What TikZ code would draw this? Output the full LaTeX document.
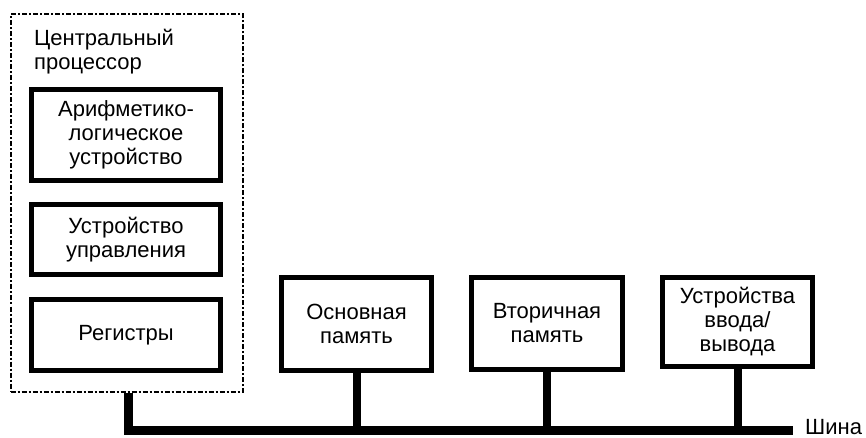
\documentclass[tikz,border=0pt]{standalone}
\usepackage{fontspec}
\setmainfont{Liberation Sans}
\begin{document}
\begin{tikzpicture}[x=1pt,y=-1pt,
  unitbox/.style={draw=black,line width=5pt,inner sep=0pt,align=center,
    font=\fontsize{22}{24}\selectfont},
  cpubox/.style={draw=black,line width=2pt,dash pattern=on 5pt off 2pt on 2pt off 2pt,
    inner sep=0pt,minimum width=232pt,minimum height=377pt},
  lbl/.style={inner sep=0pt,font=\fontsize{22}{24}\selectfont},
  bus/.style={draw=black,line width=9pt,line join=miter},
  tap/.style={draw=black,line width=8pt}]
\useasboundingbox (0,0) rectangle (866,438);
% CPU container
\node[cpubox] (cpu) at (126.5,203) {};
\node[lbl,anchor=north west,align=left] (cpul) at (34,29) {Центральный\\процессор};
% CPU parts
\node[unitbox,minimum width=189pt,minimum height=91pt] (alu) at (126,135)
  {Арифметико-\\логическое\\устройство};
\node[unitbox,minimum width=189pt,minimum height=70pt] (cu) at (126,239.5)
  {Устройство\\управления};
\node[unitbox,minimum width=189pt,minimum height=71pt] (reg) at (126,335)
  {Регистры};
% other units
\node[unitbox,minimum width=150pt,minimum height=93pt] (mem) at (356.5,324)
  {Основная\\память};
\node[unitbox,minimum width=151pt,minimum height=92pt] (sec) at (547,323.5)
  {Вторичная\\память};
\node[unitbox,minimum width=150pt,minimum height=89pt] (io) at (737.5,322)
  {Устройства\\ввода/\\вывода};
% bus
\coordinate (busL) at (128,430);
\coordinate (busR) at (793,430);
\draw[bus] (cpu.south -| busL) -- (busL) -- (busR);
\draw[tap] (mem.south) -- (mem.south |- busL);
\draw[tap] (sec.south) -- (sec.south |- busL);
\draw[tap] (io.south) -- (io.south |- busL);
\node[lbl,anchor=west] (bus) at (805,427) {Шина};
\end{tikzpicture}
\end{document}
